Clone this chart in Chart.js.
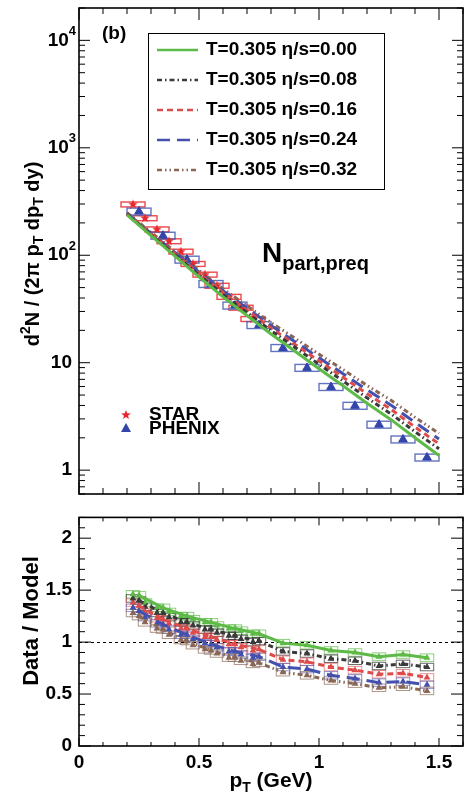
<!DOCTYPE html>
<html>
<head>
<meta charset="utf-8">
<script src="https://cdn.jsdelivr.net/npm/chart.js@4.4.0/dist/chart.umd.min.js"></script>
<style>
  html, body { margin: 0; padding: 0; background: #fff; }
  #wrap { position: relative; width: 470px; height: 802px; }
  #topChart { position: absolute; left: 0; top: 0; }
  #ratioChart { position: absolute; left: 0; top: 499px; }
</style>
</head>
<body>
<div id="wrap">
  <canvas id="topChart" width="470" height="500"></canvas>
  <canvas id="ratioChart" width="470" height="303"></canvas>
</div>
<script>
const FONT = '"Liberation Sans", Arial, Helvetica, sans-serif';

// model curves (hydro, T=0.305), pT in GeV
const modelPt = [0.2, 0.3, 0.4, 0.5, 0.6, 0.7, 0.8, 0.9, 1.0, 1.1, 1.2, 1.3, 1.4, 1.5];
const visc000 = [238, 152, 98, 63, 41, 27.5, 18.5, 12.8, 8.8, 6.1, 4.2, 2.95, 2.0, 1.37];
const visc008 = [241, 155, 101, 65.6, 43.2, 29.3, 19.9, 13.9, 9.66, 6.77, 4.71, 3.34, 2.28, 1.58];
const visc016 = [244, 158, 103.5, 67.8, 44.9, 30.7, 21.0, 14.8, 10.4, 7.33, 5.14, 3.68, 2.52, 1.76];
const visc024 = [246, 160, 106, 69.9, 46.7, 32.1, 22.2, 15.7, 11.1, 7.9, 5.59, 4.03, 2.78, 1.95];
const visc032 = [249, 163, 108.7, 72.3, 48.8, 33.8, 23.6, 16.9, 12.0, 8.62, 6.14, 4.47, 3.10, 2.20];
const modelLabels = ['T=0.305 \u03b7/s=0.00', 'T=0.305 \u03b7/s=0.08', 'T=0.305 \u03b7/s=0.16',
                     'T=0.305 \u03b7/s=0.24', 'T=0.305 \u03b7/s=0.32'];

// data
const starPt = [0.225, 0.275, 0.325, 0.375, 0.425, 0.475, 0.525, 0.575, 0.625, 0.675, 0.725];
const starVal = [297, 221, 174, 135, 108, 83, 66, 52, 41, 32.5, 25.5];
const phenixPt = [0.25, 0.35, 0.45, 0.55, 0.65, 0.75, 0.85, 0.95, 1.05, 1.15, 1.25, 1.35, 1.45];
const phenixVal = [255, 152, 91, 54, 34, 22.4, 13.7, 8.95, 5.94, 3.97, 2.65, 1.93, 1.31];

// data / model
const ratioPhenix000 = [1.45, 1.33, 1.25, 1.19, 1.13, 1.08, 0.99, 0.97, 0.92, 0.90, 0.86, 0.88, 0.85];
const ratioPhenix008 = [1.40, 1.28, 1.19, 1.12, 1.06, 1.01, 0.91, 0.89, 0.84, 0.82, 0.77, 0.79, 0.76];
const ratioPhenix016 = [1.35, 1.22, 1.13, 1.05, 0.98, 0.93, 0.83, 0.81, 0.76, 0.73, 0.69, 0.70, 0.66];
const ratioPhenix024 = [1.30, 1.17, 1.07, 0.98, 0.91, 0.86, 0.76, 0.74, 0.68, 0.65, 0.61, 0.62, 0.59];
const ratioPhenix032 = [1.25, 1.12, 1.01, 0.92, 0.85, 0.80, 0.71, 0.68, 0.63, 0.60, 0.56, 0.57, 0.53];
const ratioStar000 = [1.46, 1.38, 1.33, 1.29, 1.25, 1.22, 1.19, 1.16, 1.13, 1.11, 1.08];
const ratioStar008 = [1.42, 1.34, 1.28, 1.24, 1.19, 1.16, 1.12, 1.09, 1.06, 1.03, 1.00];
const ratioStar016 = [1.38, 1.29, 1.23, 1.18, 1.13, 1.09, 1.05, 1.02, 0.98, 0.95, 0.92];
const ratioStar024 = [1.33, 1.24, 1.18, 1.12, 1.07, 1.03, 0.99, 0.95, 0.91, 0.88, 0.85];
const ratioStar032 = [1.28, 1.19, 1.13, 1.07, 1.02, 0.97, 0.93, 0.89, 0.85, 0.82, 0.79];

// axis ticks
const logMajor = [1, 10, 100, 1000, 10000];
const logExp = ['', '', '2', '3', '4'];

const models = [visc000, visc008, visc016, visc024, visc032];
const ratioPhenix = [ratioPhenix000, ratioPhenix008, ratioPhenix016, ratioPhenix024, ratioPhenix032];
const ratioStar = [ratioStar000, ratioStar008, ratioStar016, ratioStar024, ratioStar032];

const styles = [
  { color: '#5dba47', box: 'rgba(93,186,71,0.7)', dash: [] },
  { color: '#3a3a3a', box: 'rgba(40,40,40,0.7)', dash: [5, 3, 1.5, 3] },
  { color: '#dd4b4b', box: 'rgba(221,75,75,0.6)', dash: [6, 4] },
  { color: '#4350ad', box: 'rgba(67,80,173,0.6)', dash: [13, 7] },
  { color: '#8a6655', box: 'rgba(138,102,85,0.7)', dash: [5, 3, 1.5, 3, 1.5, 3] }
];

function pts(xs, ys) { return xs.map((x, i) => ({ x, y: ys[i] })); }

function makeStar(color, r) {
  const c = document.createElement('canvas');
  c.width = c.height = 2 * r + 2;
  const g = c.getContext('2d');
  g.fillStyle = color;
  g.beginPath();
  for (let i = 0; i < 10; i++) {
    const rr = i % 2 ? r * 0.42 : r;
    const a = -Math.PI / 2 + i * Math.PI / 5;
    g.lineTo(r + 1 + rr * Math.cos(a), r + 1 + rr * Math.sin(a));
  }
  g.closePath();
  g.fill();
  return c;
}

function rich(ctx, parts, x, y, align) {
  let w = 0;
  parts.forEach(p => { ctx.font = `bold ${p[1]}px ${FONT}`; w += ctx.measureText(p[0]).width; });
  let cx = align === 'center' ? x - w / 2 : align === 'right' ? x - w : x;
  ctx.textAlign = 'left';
  parts.forEach(p => {
    ctx.font = `bold ${p[1]}px ${FONT}`;
    ctx.fillText(p[0], cx, y + (p[2] || 0));
    cx += ctx.measureText(p[0]).width;
  });
}

function frameAndTicks(chart, t) {
  const { ctx, chartArea: a, scales: { x, y } } = chart;
  ctx.save();
  ctx.strokeStyle = '#000';
  ctx.lineWidth = 1;
  ctx.beginPath();
  for (let i = 0; i <= 16; i++) {
    const v = i / 10, px = x.getPixelForValue(v);
    const len = i % 5 === 0 ? t.xMaj : t.xMin;
    ctx.moveTo(px, a.bottom); ctx.lineTo(px, a.bottom - len);
    ctx.moveTo(px, a.top); ctx.lineTo(px, a.top + len);
  }
  t.yTicks.forEach(([v, major]) => {
    const py = y.getPixelForValue(v);
    const len = major ? t.yMaj : t.yMin;
    ctx.moveTo(a.left, py); ctx.lineTo(a.left + len, py);
    ctx.moveTo(a.right, py); ctx.lineTo(a.right - len, py);
  });
  ctx.stroke();
  ctx.lineWidth = 1.6;
  ctx.strokeRect(a.left, a.top, a.right - a.left, a.bottom - a.top);
  ctx.restore();
}

function drawBoxes(chart, xs, ys, hw, lo, hi, color, lw) {
  const { ctx, scales: { x, y } } = chart;
  ctx.save();
  ctx.strokeStyle = color;
  ctx.lineWidth = lw;
  xs.forEach((v, i) => {
    const x0 = x.getPixelForValue(v - hw), x1 = x.getPixelForValue(v + hw);
    const y0 = y.getPixelForValue(lo(ys[i])), y1 = y.getPixelForValue(hi(ys[i]));
    ctx.strokeRect(x0, Math.min(y0, y1), x1 - x0, Math.abs(y1 - y0));
  });
  ctx.restore();
}

const starRed = makeStar('#e8262b', 5);

// ---------- top panel ----------
const topTicks = [];
[0.1, 1, 10, 100, 1000, 10000].forEach(d => {
  for (let k = 1; k <= 9; k++) {
    const v = d * k;
    if (v >= 0.6 && v <= 20000) topTicks.push([v, k === 1]);
  }
});

const topDeco = {
  id: 'topDeco',
  beforeDatasetsDraw(chart) {
    drawBoxes(chart, starPt, starVal, 0.05, v => v / 1.054, v => v * 1.054, 'rgba(232,40,45,0.85)', 1.4);
    drawBoxes(chart, phenixPt, phenixVal, 0.05, v => v / 1.077, v => v * 1.077, 'rgba(70,90,180,0.85)', 1.4);
  },
  afterDraw(chart) {
    const { ctx, scales: { y } } = chart;
    frameAndTicks(chart, { xMaj: 12, xMin: 6, yMaj: 11, yMin: 6, yTicks: topTicks });
    ctx.save();
    ctx.fillStyle = '#000';
    ctx.textBaseline = 'middle';
    logMajor.forEach((v, i) => {
      const py = y.getPixelForValue(v);
      if (logExp[i]) rich(ctx, [['10', 19], [logExp[i], 13, -9]], 76, py, 'right');
      else rich(ctx, [[String(v), 19]], 72, py, 'right');
    });
    // y title
    ctx.save();
    ctx.translate(33, 254);
    ctx.rotate(-Math.PI / 2);
    rich(ctx, [['d', 20], ['2', 14, -7], ['N / (2\u03c0 p', 20], ['T', 14, 6], [' dp', 20], ['T', 14, 6], [' dy)', 20]], 0, 0, 'center');
    ctx.restore();
    // (b)
    rich(ctx, [['(b)', 19]], 102, 34, 'left');
    // N_part,preq
    ctx.textBaseline = 'alphabetic';
    rich(ctx, [['N', 28], ['part,preq', 20, 8]], 262, 262, 'left');
    // legend
    ctx.lineWidth = 1;
    ctx.strokeStyle = '#000';
    ctx.fillStyle = '#fff';
    ctx.fillRect(148, 33, 236, 156);
    ctx.strokeRect(148.5, 33.5, 236, 156);
    ctx.textBaseline = 'middle';
    modelLabels.forEach((lab, i) => {
      const ly = 50 + i * 30;
      ctx.save();
      ctx.strokeStyle = styles[i].color;
      ctx.lineWidth = 2.5;
      ctx.setLineDash(styles[i].dash);
      ctx.beginPath(); ctx.moveTo(157, ly); ctx.lineTo(198, ly); ctx.stroke();
      ctx.restore();
      ctx.fillStyle = '#000';
      rich(ctx, [[lab, 19]], 206, ly, 'left');
    });
    // data legend
    ctx.drawImage(starRed, 120, 409);
    ctx.fillStyle = '#3344aa';
    ctx.beginPath(); ctx.moveTo(126, 423); ctx.lineTo(131, 432); ctx.lineTo(121, 432); ctx.closePath(); ctx.fill();
    ctx.fillStyle = '#000';
    rich(ctx, [['STAR', 19]], 149, 415, 'left');
    rich(ctx, [['PHENIX', 19]], 149, 429, 'left');
    ctx.restore();
  }
};

const topSets = models.map((m, i) => ({
  data: pts(modelPt, m), showLine: true, borderColor: styles[i].color, borderDash: styles[i].dash,
  borderWidth: 3, pointRadius: 0, fill: false
}));
topSets.push({ data: pts(starPt, starVal), pointStyle: starRed, pointRadius: 5 });
topSets.push({ data: pts(phenixPt, phenixVal), pointStyle: 'triangle', pointRadius: 5,
  backgroundColor: '#3344aa', borderColor: '#3344aa', borderWidth: 1 });

new Chart(document.getElementById('topChart'), {
  type: 'scatter',
  data: { datasets: topSets },
  options: {
    responsive: false, animation: false, devicePixelRatio: 1,
    layout: { padding: { left: 79, top: 8, right: 7, bottom: 1 } },
    plugins: { legend: { display: false }, tooltip: { enabled: false } },
    scales: {
      x: { type: 'linear', min: 0, max: 1.6, display: false },
      y: { type: 'logarithmic', min: 0.6, max: 20000, display: false }
    }
  },
  plugins: [topDeco]
});

// ---------- ratio panel ----------
const ratioTicks = [];
for (let i = 0; i <= 22; i++) ratioTicks.push([i / 10, i % 5 === 0]);

const ratioDeco = {
  id: 'ratioDeco',
  beforeDatasetsDraw(chart) {
    const { ctx, chartArea: a, scales: { y } } = chart;
    ratioPhenix.forEach((r, i) => {
      drawBoxes(chart, phenixPt, r, 0.028, v => v - 0.036, v => v + 0.036, styles[i].box, 1);
      drawBoxes(chart, starPt, ratioStar[i], 0.028, v => v - 0.036, v => v + 0.036, styles[i].box, 1);
    });
    ctx.save();
    ctx.strokeStyle = '#000';
    ctx.lineWidth = 1;
    ctx.setLineDash([3, 3]);
    const py = Math.round(y.getPixelForValue(1)) + 0.5;
    ctx.beginPath(); ctx.moveTo(a.left, py); ctx.lineTo(a.right, py); ctx.stroke();
    ctx.restore();
  },
  afterDraw(chart) {
    const { ctx } = chart;
    frameAndTicks(chart, { xMaj: 8, xMin: 4, yMaj: 12, yMin: 6, yTicks: ratioTicks });
    ctx.save();
    ctx.fillStyle = '#000';
    ctx.textBaseline = 'middle';
    ctx.save();
    ctx.translate(32, 122);
    ctx.rotate(-Math.PI / 2);
    rich(ctx, [['Data / Model', 22]], 0, 0, 'center');
    ctx.restore();
    rich(ctx, [['p', 21], ['T', 14, 7], [' (GeV)', 21]], 271, 282, 'center');
    ctx.restore();
  }
};

const ratioSets = [];
ratioPhenix.forEach((r, i) => {
  ratioSets.push({ data: pts(phenixPt, r), showLine: true, borderColor: styles[i].color, borderDash: styles[i].dash,
    borderWidth: 3, pointStyle: 'triangle', pointRadius: 4, backgroundColor: styles[i].color, pointBorderWidth: 0 });
});
ratioStar.forEach((r, i) => {
  ratioSets.push({ data: pts(starPt, r), pointStyle: 'triangle', pointRadius: 4,
    backgroundColor: styles[i].color, borderWidth: 0 });
});

const tickFont = { family: FONT, size: 19, weight: 'bold' };
const fmt = v => String(Number(v.toFixed(1)));
new Chart(document.getElementById('ratioChart'), {
  type: 'scatter',
  data: { datasets: ratioSets },
  options: {
    responsive: false, animation: false, devicePixelRatio: 1,
    layout: { padding: { left: 0, top: 0, right: 7, bottom: 0 } },
    plugins: { legend: { display: false }, tooltip: { enabled: false } },
    scales: {
      x: {
        type: 'linear', min: 0, max: 1.6, afterFit(s) { s.height = 56; },
        grid: { display: false, drawTicks: false }, border: { display: false },
        ticks: { stepSize: 0.5, includeBounds: false, font: tickFont, color: '#000', padding: 5, maxRotation: 0, autoSkip: false, callback: fmt }
      },
      y: {
        type: 'linear', min: 0, max: 2.2, afterFit(s) { s.width = 79; },
        grid: { display: false, drawTicks: false }, border: { display: false },
        ticks: { stepSize: 0.5, includeBounds: false, font: tickFont, color: '#000', padding: 7, callback: fmt }
      }
    }
  },
  plugins: [ratioDeco]
});
</script>
</body>
</html>
